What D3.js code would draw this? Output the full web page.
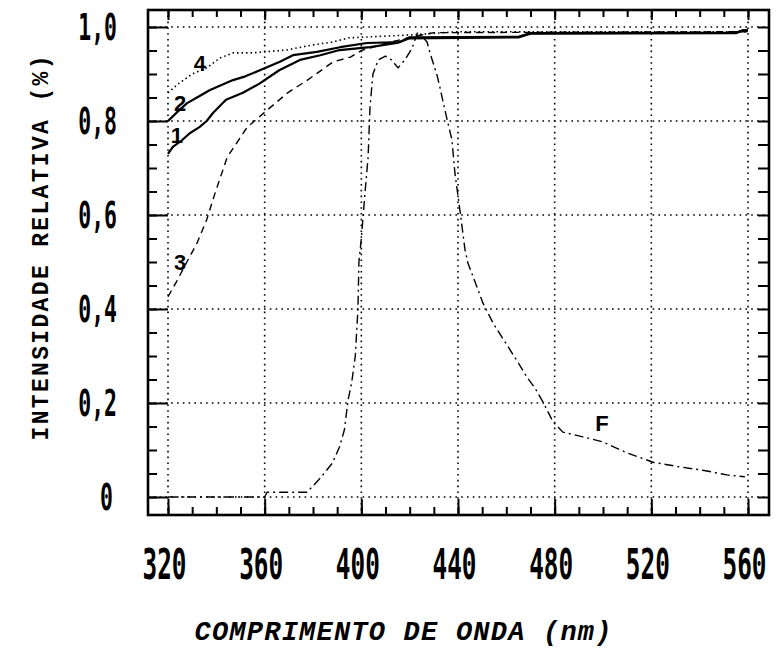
<!DOCTYPE html>
<html>
<head>
<meta charset="utf-8">
<script src="https://cdn.jsdelivr.net/npm/d3@7/dist/d3.min.js"></script>
<style>
  body { margin: 0; background: #fff; }
</style>
</head>
<body>
<div id="chart-area"></div>
<script>
/*
*    Intensidade relativa x comprimento de onda
*/

/* Data */
var xTicks = [320, 360, 400, 440, 480, 520, 560];
var yTicks = [0, 0.2, 0.4, 0.6, 0.8, 1.0];
var yTickLabels = ["0", "0,2", "0,4", "0,6", "0,8", "1,0"];

// [wavelength nm, relative intensity]
var curve1 = [[320,0.73],[322,0.745],[326,0.76],[329,0.774],[333,0.787],[336,0.80],[338.6,0.817],[344,0.845],[351,0.86],[358,0.88],[366,0.908],[374.6,0.93],[383,0.94],[391,0.951],[403.6,0.957],[414.7,0.966],[420,0.976],[465,0.978],[470,0.986],[555,0.987],[558,0.993],[560,0.993]];
var curve2 = [[320,0.80],[324,0.82],[327.9,0.838],[332,0.85],[337.4,0.866],[346.9,0.887],[352,0.895],[358,0.908],[366.3,0.926],[371.7,0.94],[381.6,0.947],[391.2,0.957],[402.3,0.966],[416,0.968],[420,0.978],[465,0.979],[470,0.987],[555,0.988],[558,0.993],[560,0.993]];
var curve3 = [[320,0.426],[323.7,0.46],[327.8,0.50],[332,0.54],[336,0.59],[339.5,0.647],[344.5,0.723],[352.8,0.787],[361,0.823],[369.5,0.86],[377.7,0.887],[388.4,0.926],[395.5,0.936],[400,0.95],[410,0.965],[420,0.978],[430,0.988],[560,0.99]];
var curve4 = [[320,0.86],[323.7,0.877],[330,0.90],[336,0.913],[341.5,0.934],[347,0.945],[355,0.945],[369,0.951],[380,0.962],[388,0.968],[395,0.977],[420,0.983],[440,0.99],[560,0.99]];
var curveF = [[320,0],[360,0],[361,0.01],[377.5,0.01],[383,0.04],[388,0.072],[391,0.107],[393,0.143],[394.5,0.206],[396,0.243],[397.5,0.30],[398.6,0.40],[399,0.50],[400,0.55],[401.5,0.646],[402.8,0.723],[403.6,0.83],[404.8,0.90],[407,0.93],[410,0.938],[412.5,0.93],[415.2,0.913],[418,0.93],[421,0.955],[423.4,0.99],[427.2,0.968],[428.4,0.945],[431.3,0.898],[432.5,0.872],[434.6,0.823],[435.8,0.796],[437.5,0.76],[438.7,0.69],[440.8,0.61],[442.9,0.526],[444.1,0.498],[450.3,0.413],[454.5,0.37],[464.4,0.29],[468.5,0.255],[471.8,0.232],[475.2,0.202],[479.3,0.16],[483.4,0.138],[491.7,0.128],[500,0.117],[509.9,0.094],[520.7,0.074],[531.8,0.064],[541.3,0.057],[551.3,0.047],[558.7,0.043]];

var curveNames = ["1", "2", "3", "4", "F"];
var curveData = [curve1, curve2, curve3, curve4, curveF];
// label anchor for each curve: [nm, intensity]
var curveLabelPos = [[323.7,0.77],[325,0.838],[325,0.50],[333.2,0.923],[499.6,0.157]];


/* Canvas */
var width = 776;
var height = 650;

var svg = d3.select("#chart-area").append("svg")
  .attr("width", width)
  .attr("height", height);

var g = svg.append("g");


/* Scales */
var x = d3.scaleLinear()
  .domain([320, 560])
  .range([168, 748]);

var y = d3.scaleLinear()
  .domain([0, 1])
  .range([497, 27]);

// frame sits a bit outside the grid
var frame = {left: 148, right: 769, top: 10, bottom: 515};

var minorX = d3.range(320, 561, 10);
var minorY = d3.range(0, 1.001, 0.05);

// tall, narrow digits like the plotter font
var squeeze = 0.58;


/* Grid (dotted) */
g.selectAll(".vgrid").data(xTicks).enter()
  .append("line")
  .attr("class", "vgrid")
  .attr("x1", d => x(d)).attr("x2", d => x(d))
  .attr("y1", frame.top).attr("y2", frame.bottom)
  .attr("stroke", "#000")
  .attr("stroke-width", 1.6)
  .attr("stroke-dasharray", "1.6,4.2");

g.selectAll(".hgrid").data(yTicks).enter()
  .append("line")
  .attr("class", "hgrid")
  .attr("x1", frame.left).attr("x2", frame.right)
  .attr("y1", d => y(d)).attr("y2", d => y(d))
  .attr("stroke", "#000")
  .attr("stroke-width", 1.6)
  .attr("stroke-dasharray", "1.6,4.2");


/* Axes (ticks point inward) */
function cleanAxis(sel){
  sel.select(".domain").remove();
  sel.selectAll("line").attr("stroke", "#000").attr("stroke-width", 2);
}

// bottom
g.append("g")
  .attr("transform", "translate(0," + frame.bottom + ")")
  .call(d3.axisBottom(x).tickValues(minorX).tickSize(-8).tickFormat(""))
  .call(cleanAxis);

var xAxisCall = d3.axisBottom(x)
  .tickValues(xTicks)
  .tickSize(-16)
  .tickPadding(34)
  .tickFormat(d => d);
var xAxis = g.append("g")
  .attr("transform", "translate(0," + frame.bottom + ")")
  .call(xAxisCall)
  .call(cleanAxis);
xAxis.selectAll("text")
  .attr("font-family", "'DejaVu Sans Mono', monospace")
  .attr("font-weight", "bold")
  .attr("font-size", 42)
  .attr("fill", "#000")
  .attr("transform", "translate(-4,0) scale(" + squeeze + ",1)");

// top
g.append("g")
  .attr("transform", "translate(0," + frame.top + ")")
  .call(d3.axisTop(x).tickValues(minorX).tickSize(-7).tickFormat(""))
  .call(cleanAxis);
g.append("g")
  .attr("transform", "translate(0," + frame.top + ")")
  .call(d3.axisTop(x).tickValues(xTicks).tickSize(-10).tickFormat(""))
  .call(cleanAxis);

// left
g.append("g")
  .attr("transform", "translate(" + frame.left + ",0)")
  .call(d3.axisLeft(y).tickValues(minorY).tickSize(-9).tickFormat(""))
  .call(cleanAxis);

var yAxisCall = d3.axisLeft(y)
  .tickValues(yTicks)
  .tickSize(-20)
  .tickPadding(31)
  .tickFormat((d, i) => yTickLabels[i]);
var yAxis = g.append("g")
  .attr("transform", "translate(" + frame.left + ",0)")
  .call(yAxisCall)
  .call(cleanAxis);
yAxis.selectAll("text")
  .attr("font-family", "'DejaVu Sans Mono', monospace")
  .attr("font-weight", "bold")
  .attr("font-size", 37)
  .attr("fill", "#000")
  .attr("dy", "0.34em")
  .attr("x", d => (d === 0 ? -35 : -31) / squeeze)
  .attr("transform", "scale(" + squeeze + ",1)");

// right
g.append("g")
  .attr("transform", "translate(" + frame.right + ",0)")
  .call(d3.axisRight(y).tickValues(minorY).tickSize(-11).tickFormat(""))
  .call(cleanAxis);

// frame
g.append("rect")
  .attr("x", frame.left)
  .attr("y", frame.top)
  .attr("width", frame.right - frame.left)
  .attr("height", frame.bottom - frame.top)
  .attr("fill", "none")
  .attr("stroke", "#000")
  .attr("stroke-width", 2.6);


/* Curves */
var line = d3.line()
  .x(d => x(d[0]))
  .y(d => y(d[1]));

var curveStyle = {
  "1": {width: 2.2, dash: null},
  "2": {width: 2.2, dash: null},
  "3": {width: 1.4, dash: "7,5"},
  "4": {width: 1.6, dash: "1.5,3"},
  "F": {width: 1.4, dash: "9,4,2,4"}
};

curveNames.forEach((name, i) => {
  g.append("path")
    .datum(curveData[i])
    .attr("d", line)
    .attr("fill", "none")
    .attr("stroke", "#000")
    .attr("stroke-width", curveStyle[name].width)
    .attr("stroke-dasharray", curveStyle[name].dash)
    .attr("stroke-linejoin", "round");

  g.append("text")
    .attr("x", x(curveLabelPos[i][0]))
    .attr("y", y(curveLabelPos[i][1]))
    .attr("text-anchor", "middle")
    .attr("dominant-baseline", "central")
    .attr("font-family", "'Liberation Sans', sans-serif")
    .attr("font-weight", "bold")
    .attr("font-size", 22)
    .text(name);
});


/* Labels */

// X label
g.append("text")
  .attr("x", 403)
  .attr("y", 640)
  .attr("text-anchor", "middle")
  .attr("font-family", "'Liberation Mono', monospace")
  .attr("font-weight", "bold")
  .attr("font-style", "italic")
  .attr("font-size", 27)
  .attr("textLength", 417)
  .attr("lengthAdjust", "spacing")
  .text("COMPRIMENTO DE ONDA (nm)");

// Y label
g.append("text")
  .attr("transform", "translate(48,248) rotate(-90)")
  .attr("text-anchor", "middle")
  .attr("font-family", "'Liberation Mono', monospace")
  .attr("font-weight", "bold")
  .attr("font-size", 23)
  .attr("textLength", 385)
  .attr("lengthAdjust", "spacing")
  .text("INTENSIDADE RELATIVA (%)");
</script>
</body>
</html>
